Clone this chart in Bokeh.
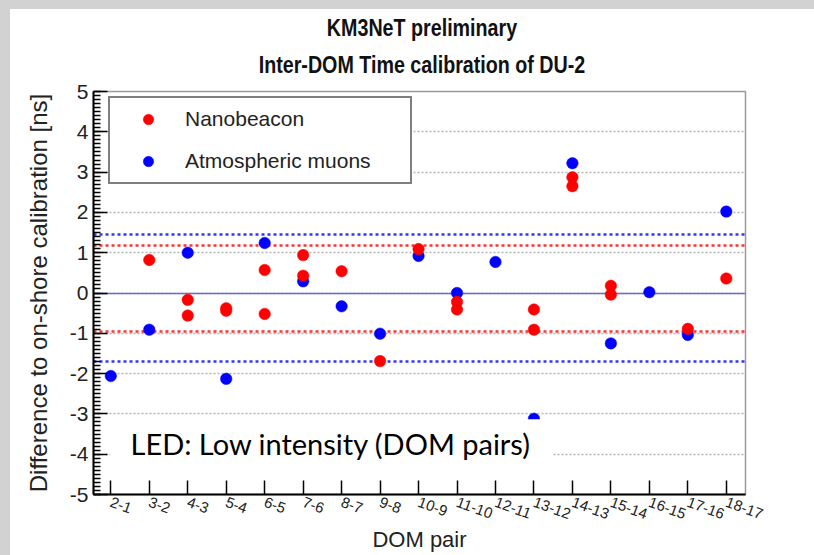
from bokeh.plotting import figure
from bokeh.models import (Range1d, FixedTicker, SingleIntervalTicker, Legend, LegendItem,
                          Label, BoxAnnotation, Spacer, Div)
from bokeh.layouts import column, row
from bokeh.embed import file_html
from bokeh.resources import INLINE

# DOM pairs along the detection unit
dom_pairs = ["2-1", "3-2", "4-3", "5-4", "6-5", "7-6", "8-7", "9-8", "10-9",
             "11-10", "12-11", "13-12", "14-13", "15-14", "16-15", "17-16", "18-17"]

# Nanobeacon results (difference to on-shore calibration, ns)
nano_pair = ["3-2", "4-3", "4-3", "5-4", "5-4", "6-5", "6-5", "7-6", "7-6", "8-7",
             "9-8", "10-9", "11-10", "11-10", "13-12", "13-12", "14-13", "14-13",
             "15-14", "15-14", "17-16", "18-17"]
nano_offset = [0.82, -0.17, -0.56, -0.38, -0.44, 0.57, -0.52, 0.94, 0.43, 0.54,
               -1.69, 1.09, -0.22, -0.41, -0.41, -0.91, 2.87, 2.65,
               0.18, -0.04, -0.89, 0.36]

# Atmospheric muon results (one per pair)
muon_pair = dom_pairs
muon_offset = [-2.06, -0.91, 1.00, -2.13, 1.24, 0.29, -0.33, -1.01, 0.92,
               0.00, 0.77, -3.12, 3.22, -1.25, 0.02, -1.04, 2.02]

# RMS bands of the two methods
nano_band = [1.17, -0.96]
muon_band = [1.44, -1.69]

y_ticks = [-5, -4, -3, -2, -1, 0, 1, 2, 3, 4, 5]
grid_levels = [-4, -3, -2, -1, 0, 1, 2, 3, 4]

title_lines = ["KM3NeT preliminary", "Inter-DOM Time calibration of DU-2"]
caption = "LED: Low intensity (DOM pairs)"

RED = "#ff0000"
BLUE = "#0000ff"
GRAY_BG = "#d2d2d2"
SANS = "Liberation Sans"

pair_pos = {name: i + 1 for i, name in enumerate(dom_pairs)}

p = figure(width=804, height=476, output_backend="svg", toolbar_location=None,
           title=None, x_range=Range1d(0.55, 17.5), y_range=Range1d(-5, 5),
           min_border_left=83, min_border_right=69, min_border_top=12,
           min_border_bottom=60)
p.background_fill_color = "white"
p.border_fill_color = "white"
p.outline_line_color = "#9a9a9a"
p.outline_line_width = 1.5

# x axis: one tick per DOM pair
xa = p.xaxis[0]
xa.ticker = FixedTicker(ticks=list(range(1, len(dom_pairs) + 1)), minor_ticks=[])
xa.major_label_overrides = {i + 1: n for i, n in enumerate(dom_pairs)}
xa.major_label_orientation = -0.35
xa.major_label_text_font = SANS
xa.major_label_text_font_size = "15px"
xa.major_label_text_color = "#222222"
xa.major_label_standoff = 7
xa.major_tick_in = 14
xa.major_tick_out = 0
xa.axis_line_width = 2
xa.axis_line_color = "black"
xa.major_tick_line_width = 1.5
xa.axis_label = "DOM pair"
xa.axis_label_text_font = SANS
xa.axis_label_text_font_style = "normal"
xa.axis_label_text_font_size = "22px"
xa.axis_label_text_color = "#222222"
xa.axis_label_standoff = 0

# y axis with ROOT-like inner ticks
ya = p.yaxis[0]
ya.ticker = SingleIntervalTicker(interval=1, num_minor_ticks=10)
ya.major_label_overrides = {v: str(v) for v in y_ticks}
ya.major_label_text_font = SANS
ya.major_label_text_font_size = "21px"
ya.major_label_text_color = "#222222"
ya.major_label_standoff = 5
ya.major_tick_in = 14
ya.major_tick_out = 0
ya.minor_tick_in = 7
ya.minor_tick_out = 0
ya.axis_line_width = 2
ya.axis_line_color = "black"
ya.major_tick_line_width = 1.5
ya.minor_tick_line_width = 1.5
ya.axis_label = "Difference to on-shore calibration [ns]"
ya.axis_label_text_font = SANS
ya.axis_label_text_font_style = "normal"
ya.axis_label_text_font_size = "24px"
ya.axis_label_text_color = "#222222"
ya.axis_label_standoff = 15

p.xgrid.visible = False
p.ygrid.ticker = FixedTicker(ticks=grid_levels)
p.ygrid.grid_line_color = "#b4b4b4"
p.ygrid.grid_line_dash = "2 2"
p.ygrid.grid_line_width = 1.5

# reference lines
p.hspan(y=[0], line_color="#6a6ad8", line_width=1.5)
p.hspan(y=nano_band, line_color=RED, line_width=2.5, line_dash="3 3", line_alpha=0.8)
p.hspan(y=muon_band, line_color=BLUE, line_width=2.5, line_dash="3 3", line_alpha=0.8)

muon_r = p.scatter([pair_pos[n] for n in muon_pair], muon_offset, marker="circle",
                   size=11.5, fill_color=BLUE, line_color=BLUE, line_width=0.5)
nano_r = p.scatter([pair_pos[n] for n in nano_pair], nano_offset, marker="circle",
                   size=11.5, fill_color=RED, line_color=RED, line_width=0.5)

legend = Legend(items=[LegendItem(label="Nanobeacon", renderers=[nano_r]),
                       LegendItem(label="Atmospheric muons", renderers=[muon_r])],
                location=(15, 310), orientation="vertical",
                padding=8, margin=0, spacing=16,
                glyph_width=60, glyph_height=26, label_height=26,
                label_standoff=7, label_width=217,
                label_text_font=SANS, label_text_font_size="21px",
                label_text_color="#222222",
                border_line_color="black", border_line_width=2,
                background_fill_color="white", background_fill_alpha=1.0)
p.add_layout(legend, "center")

# caption box over the lower part of the frame
p.add_layout(BoxAnnotation(left=0.99, right=12.47, top=-3.13, bottom=-4.38,
                           fill_color="white", fill_alpha=1.0, line_alpha=0.0))
p.add_layout(Label(x=37, y=51, x_units="screen", y_units="screen",
                   text=caption, text_font="Lato",
                   text_font_size="29px", text_color="black",
                   text_align="left", text_baseline="middle"))

# two-line condensed bold heading above the frame
line_style = ("display:block; width:784px; text-align:center;"
              " transform:scaleX(0.82); white-space:nowrap;")
title_html = (
    "<div style=\"display:block; width:784px; padding:7px 0 0 20px;"
    " font-family:'Liberation Sans', Arial, sans-serif;"
    " font-weight:bold; font-size:24px; line-height:24px; color:#111111;\">"
    f"<div style=\"{line_style}\">{title_lines[0]}</div>"
    f"<div style=\"{line_style} margin-top:13px;\">{title_lines[1]}</div>"
    "</div>"
)
title_div = Div(text=title_html, width=804, height=70, margin=0,
                styles={"background-color": "white"})

top_strip = Spacer(width=814, height=9, margin=0, styles={"background-color": GRAY_BG})
left_strip = Spacer(width=10, height=546, margin=0, styles={"background-color": GRAY_BG})
page = column(top_strip, row(left_strip, column(title_div, p)))

open("out.html", "w").write(file_html(page, INLINE))
